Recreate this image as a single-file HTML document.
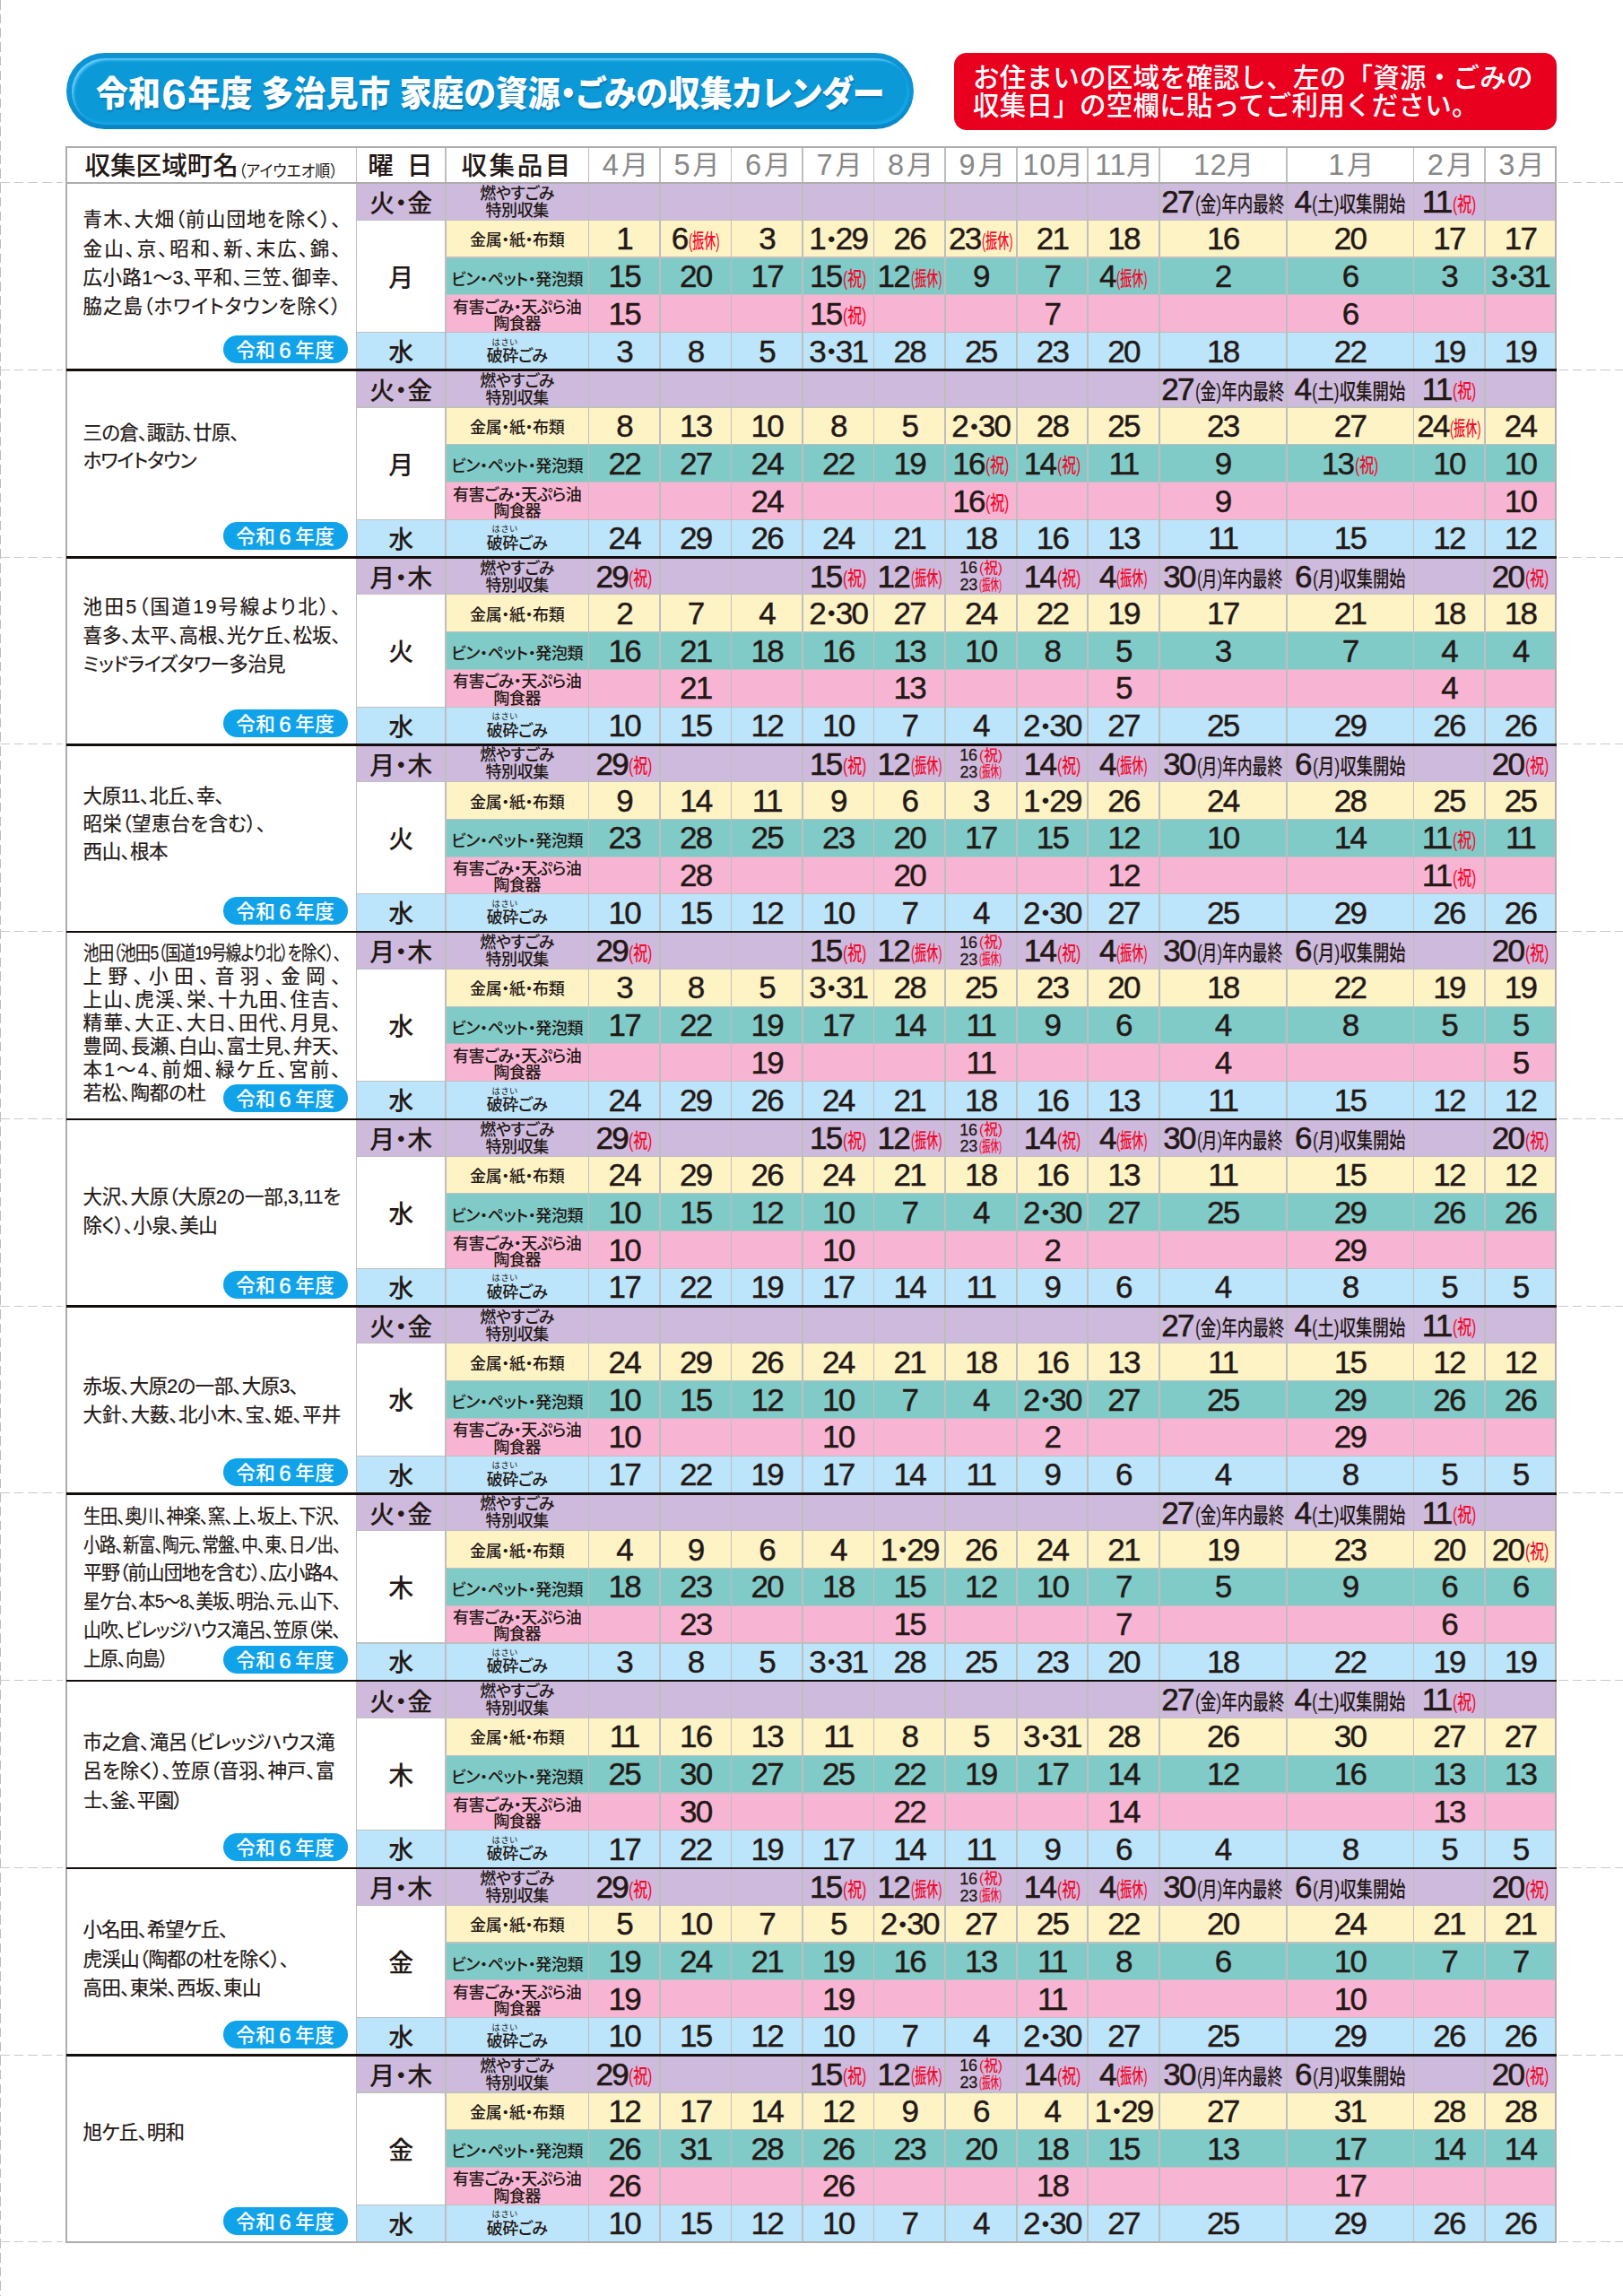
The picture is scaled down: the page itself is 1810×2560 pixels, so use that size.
<!DOCTYPE html>
<html lang="ja">
<head>
<meta charset="utf-8">
<title>令和6年度 多治見市 家庭の資源・ごみの収集カレンダー</title>
<style>
html,body{margin:0;padding:0;background:#fff}
body{width:1810px;height:2560px;position:relative;overflow:hidden;font-family:"Liberation Sans","Noto Sans CJK JP",sans-serif;color:#231815;font-feature-settings:"palt" 1;-webkit-font-smoothing:antialiased}
div,span,i,b{box-sizing:border-box}
.a{position:absolute}
.bg{position:absolute}
.vl{position:absolute;width:1.8px;background:#bebebf;top:163.6px;height:2336.37px}
.hl{position:absolute;height:1.15px;background:#c0c0c1}
.bl{position:absolute;height:2.5px;background:#150d0b;left:73.5px;width:1662.7px}
.dh{position:absolute;height:1px;background:repeating-linear-gradient(90deg,#c9c9c9 0 10.5px,transparent 10.5px 15.7px)}
.dv{position:absolute;width:1px;left:0;top:0;height:2560px;background:repeating-linear-gradient(180deg,#bdbdbd 0 10.5px,transparent 10.5px 15.7px)}
.c{position:absolute;height:41.75px;line-height:41.75px;text-align:center;white-space:nowrap;font-size:35px;letter-spacing:-1.7px;-webkit-text-stroke:.45px #231815}
.c i{font-style:normal;font-size:24px;vertical-align:3.5px;margin:0 2px 0 3px;-webkit-text-stroke:0}
.c.pp{-webkit-text-stroke:.62px #231815}
.s,.f,.w{display:inline-block;letter-spacing:0;transform-origin:0 50%;-webkit-text-stroke:0;vertical-align:1.5px;font-weight:500}
.s,.f{color:#f5082d;font-size:22px;margin-left:1.5px;vertical-align:2.5px}
.w{font-size:23.5px;margin-left:2px;vertical-align:1px}
.dd{position:absolute;height:20px;line-height:20px;font-size:18px;text-align:center;white-space:nowrap;letter-spacing:-.3px;-webkit-text-stroke:.3px #231815}
.dd .s,.dd .f{font-size:17px;vertical-align:.5px;margin-left:2px}
.s{transform:scaleX(0.7202);margin-right:-10.26px}
.f{transform:scaleX(0.5882);margin-right:-24.16px}
.wK{transform:scaleX(0.7457);margin-right:-33.86px}
.wT{transform:scaleX(0.7833);margin-right:-28.86px}
.wM{transform:scaleX(0.7149);margin-right:-37.96px}
.wG{transform:scaleX(0.7773);margin-right:-29.66px}
.dd .s{transform:scaleX(0.9108);margin-right:-2.53px}
.dd .f{transform:scaleX(0.5559);margin-right:-20.13px}
.day{position:absolute;text-align:center;white-space:nowrap;font-size:28px;font-weight:500;left:397.55px;width:99.45px}
.it{position:absolute;left:497px;width:159.4px;text-align:center;white-space:nowrap;font-size:18px;font-weight:500;line-height:19px;letter-spacing:-.4px}
.rb{position:absolute;font-size:9.3px;line-height:9px;letter-spacing:1px;font-weight:400}
.al{position:absolute;left:92.6px;height:30px;line-height:30px;font-size:21.5px;white-space:nowrap;-webkit-text-stroke:.22px #231815}
.al span{display:inline-block;transform-origin:0 50%;white-space:nowrap}
.pill{position:absolute;left:248.6px;width:139.4px;height:31px;border-radius:15.5px;background:#10a3ea;color:#fff;font-size:21.5px;font-weight:500;line-height:33.5px;text-align:center;white-space:nowrap;letter-spacing:.5px}
.i3{line-height:18.3px}
.hd{position:absolute;top:163.6px;height:39.9px;line-height:39.9px;white-space:nowrap;text-align:center}
.hm{font-size:30px;color:#888;letter-spacing:3px;padding-top:0;padding-left:5.5px}
.hm b{font-weight:400;font-size:32.5px;vertical-align:-.5px}
.hb{font-size:28.6px;font-weight:500;padding-top:2.2px}

.ttl{left:74px;top:59.2px;width:945px;height:85px;border-radius:42.5px;background:linear-gradient(180deg,#0e92d3 0%,#0c95d5 55%,#0a86c6 100%);color:#fff;font-weight:900;font-size:39px;line-height:85px;white-space:nowrap}
.ttl::before{content:"";position:absolute;left:5.5px;top:5.5px;right:5.5px;bottom:5.5px;border-radius:37px;background:#0c99d8;box-shadow:inset 3px 3px 3px -1px rgba(120,215,255,.85),inset -2px -3px 3px 0 rgba(24,168,232,.9)}
.ttl span{display:inline-block;transform-origin:0 50%;transform:scaleX(0.9222);margin-left:32.5px;z-index:1;text-shadow:1px 1.5px 1.5px rgba(0,60,110,.35);position:relative;top:3.1px}
.ttl b{display:inline-block;font-weight:700;font-size:49px;line-height:20px;vertical-align:-3.5px;margin:0 3px;transform:scaleX(1.1)}
.note{left:1064px;top:59px;width:672px;height:85.5px;border-radius:14px;background:#e8001e;color:#fff;font-size:29.5px;font-weight:500;line-height:31px;white-space:nowrap;padding:12px 0 0 21px;letter-spacing:.25px;font-feature-settings:"palt" 0}
.h1{letter-spacing:0}
.h2{font-size:18px;font-weight:400;display:inline-block;transform-origin:0 50%;transform:scaleX(.94);vertical-align:-2.5px;margin-left:.5px}
.hm2{letter-spacing:.5px;padding-left:2px}
.p6{margin:0 4px;font-size:24px;vertical-align:-1px;-webkit-text-stroke:.4px #fff}
</style>
</head>
<body>
<div class="a ttl"><span>令和<b>6</b>年度 多治見市 家庭の資源・ごみの収集カレンダー</span></div>
<div class="a note"><div>お住まいの区域を確認し、左の「資源・ごみの</div><div>収集日」の空欄に貼ってご利用ください。</div></div>
<div class="dv"></div>
<div class="dh" style="left:0;width:70px;top:203px"></div>
<div class="dh" style="left:1738px;width:72px;top:203px"></div>
<div class="dh" style="left:0;width:70px;top:411.77px"></div>
<div class="dh" style="left:1738px;width:72px;top:411.77px"></div>
<div class="dh" style="left:0;width:70px;top:620.54px"></div>
<div class="dh" style="left:1738px;width:72px;top:620.54px"></div>
<div class="dh" style="left:0;width:70px;top:829.31px"></div>
<div class="dh" style="left:1738px;width:72px;top:829.31px"></div>
<div class="dh" style="left:0;width:70px;top:1038.08px"></div>
<div class="dh" style="left:1738px;width:72px;top:1038.08px"></div>
<div class="dh" style="left:0;width:70px;top:1246.85px"></div>
<div class="dh" style="left:1738px;width:72px;top:1246.85px"></div>
<div class="dh" style="left:0;width:70px;top:1455.62px"></div>
<div class="dh" style="left:1738px;width:72px;top:1455.62px"></div>
<div class="dh" style="left:0;width:70px;top:1664.39px"></div>
<div class="dh" style="left:1738px;width:72px;top:1664.39px"></div>
<div class="dh" style="left:0;width:70px;top:1873.16px"></div>
<div class="dh" style="left:1738px;width:72px;top:1873.16px"></div>
<div class="dh" style="left:0;width:70px;top:2081.93px"></div>
<div class="dh" style="left:1738px;width:72px;top:2081.93px"></div>
<div class="dh" style="left:0;width:70px;top:2290.7px"></div>
<div class="dh" style="left:1738px;width:72px;top:2290.7px"></div>
<div class="dh" style="left:0;width:70px;top:2499.47px"></div>
<div class="dh" style="left:1738px;width:72px;top:2499.47px"></div>
<div class="bg" style="left:397.55px;top:203.5px;width:1337.75px;height:42.05px;background:#cdbadc"></div>
<div class="bg" style="left:497px;top:245.25px;width:1238.3px;height:42.05px;background:#fdf3c5"></div>
<div class="bg" style="left:497px;top:287.01px;width:1238.3px;height:42.05px;background:#80cbc8"></div>
<div class="bg" style="left:497px;top:328.76px;width:1238.3px;height:42.05px;background:#f8b5d3"></div>
<div class="bg" style="left:397.55px;top:370.52px;width:1337.75px;height:42.05px;background:#bce4fa"></div>
<div class="bg" style="left:397.55px;top:412.27px;width:1337.75px;height:42.05px;background:#cdbadc"></div>
<div class="bg" style="left:497px;top:454.02px;width:1238.3px;height:42.05px;background:#fdf3c5"></div>
<div class="bg" style="left:497px;top:495.78px;width:1238.3px;height:42.05px;background:#80cbc8"></div>
<div class="bg" style="left:497px;top:537.53px;width:1238.3px;height:42.05px;background:#f8b5d3"></div>
<div class="bg" style="left:397.55px;top:579.29px;width:1337.75px;height:42.05px;background:#bce4fa"></div>
<div class="bg" style="left:397.55px;top:621.04px;width:1337.75px;height:42.05px;background:#cdbadc"></div>
<div class="bg" style="left:497px;top:662.79px;width:1238.3px;height:42.05px;background:#fdf3c5"></div>
<div class="bg" style="left:497px;top:704.55px;width:1238.3px;height:42.05px;background:#80cbc8"></div>
<div class="bg" style="left:497px;top:746.3px;width:1238.3px;height:42.05px;background:#f8b5d3"></div>
<div class="bg" style="left:397.55px;top:788.06px;width:1337.75px;height:42.05px;background:#bce4fa"></div>
<div class="bg" style="left:397.55px;top:829.81px;width:1337.75px;height:42.05px;background:#cdbadc"></div>
<div class="bg" style="left:497px;top:871.56px;width:1238.3px;height:42.05px;background:#fdf3c5"></div>
<div class="bg" style="left:497px;top:913.32px;width:1238.3px;height:42.05px;background:#80cbc8"></div>
<div class="bg" style="left:497px;top:955.07px;width:1238.3px;height:42.05px;background:#f8b5d3"></div>
<div class="bg" style="left:397.55px;top:996.83px;width:1337.75px;height:42.05px;background:#bce4fa"></div>
<div class="bg" style="left:397.55px;top:1038.58px;width:1337.75px;height:42.05px;background:#cdbadc"></div>
<div class="bg" style="left:497px;top:1080.33px;width:1238.3px;height:42.05px;background:#fdf3c5"></div>
<div class="bg" style="left:497px;top:1122.09px;width:1238.3px;height:42.05px;background:#80cbc8"></div>
<div class="bg" style="left:497px;top:1163.84px;width:1238.3px;height:42.05px;background:#f8b5d3"></div>
<div class="bg" style="left:397.55px;top:1205.6px;width:1337.75px;height:42.05px;background:#bce4fa"></div>
<div class="bg" style="left:397.55px;top:1247.35px;width:1337.75px;height:42.05px;background:#cdbadc"></div>
<div class="bg" style="left:497px;top:1289.1px;width:1238.3px;height:42.05px;background:#fdf3c5"></div>
<div class="bg" style="left:497px;top:1330.86px;width:1238.3px;height:42.05px;background:#80cbc8"></div>
<div class="bg" style="left:497px;top:1372.61px;width:1238.3px;height:42.05px;background:#f8b5d3"></div>
<div class="bg" style="left:397.55px;top:1414.37px;width:1337.75px;height:42.05px;background:#bce4fa"></div>
<div class="bg" style="left:397.55px;top:1456.12px;width:1337.75px;height:42.05px;background:#cdbadc"></div>
<div class="bg" style="left:497px;top:1497.87px;width:1238.3px;height:42.05px;background:#fdf3c5"></div>
<div class="bg" style="left:497px;top:1539.63px;width:1238.3px;height:42.05px;background:#80cbc8"></div>
<div class="bg" style="left:497px;top:1581.38px;width:1238.3px;height:42.05px;background:#f8b5d3"></div>
<div class="bg" style="left:397.55px;top:1623.14px;width:1337.75px;height:42.05px;background:#bce4fa"></div>
<div class="bg" style="left:397.55px;top:1664.89px;width:1337.75px;height:42.05px;background:#cdbadc"></div>
<div class="bg" style="left:497px;top:1706.64px;width:1238.3px;height:42.05px;background:#fdf3c5"></div>
<div class="bg" style="left:497px;top:1748.4px;width:1238.3px;height:42.05px;background:#80cbc8"></div>
<div class="bg" style="left:497px;top:1790.15px;width:1238.3px;height:42.05px;background:#f8b5d3"></div>
<div class="bg" style="left:397.55px;top:1831.91px;width:1337.75px;height:42.05px;background:#bce4fa"></div>
<div class="bg" style="left:397.55px;top:1873.66px;width:1337.75px;height:42.05px;background:#cdbadc"></div>
<div class="bg" style="left:497px;top:1915.41px;width:1238.3px;height:42.05px;background:#fdf3c5"></div>
<div class="bg" style="left:497px;top:1957.17px;width:1238.3px;height:42.05px;background:#80cbc8"></div>
<div class="bg" style="left:497px;top:1998.92px;width:1238.3px;height:42.05px;background:#f8b5d3"></div>
<div class="bg" style="left:397.55px;top:2040.68px;width:1337.75px;height:42.05px;background:#bce4fa"></div>
<div class="bg" style="left:397.55px;top:2082.43px;width:1337.75px;height:42.05px;background:#cdbadc"></div>
<div class="bg" style="left:497px;top:2124.18px;width:1238.3px;height:42.05px;background:#fdf3c5"></div>
<div class="bg" style="left:497px;top:2165.94px;width:1238.3px;height:42.05px;background:#80cbc8"></div>
<div class="bg" style="left:497px;top:2207.69px;width:1238.3px;height:42.05px;background:#f8b5d3"></div>
<div class="bg" style="left:397.55px;top:2249.45px;width:1337.75px;height:42.05px;background:#bce4fa"></div>
<div class="bg" style="left:397.55px;top:2291.2px;width:1337.75px;height:42.05px;background:#cdbadc"></div>
<div class="bg" style="left:497px;top:2332.95px;width:1238.3px;height:42.05px;background:#fdf3c5"></div>
<div class="bg" style="left:497px;top:2374.71px;width:1238.3px;height:42.05px;background:#80cbc8"></div>
<div class="bg" style="left:497px;top:2416.46px;width:1238.3px;height:42.05px;background:#f8b5d3"></div>
<div class="bg" style="left:397.55px;top:2458.22px;width:1337.75px;height:42.05px;background:#bce4fa"></div>
<div class="hl" style="left:397.55px;top:244.7px;width:1337.75px"></div>
<div class="hl" style="left:497px;top:286.46px;width:1238.3px"></div>
<div class="hl" style="left:497px;top:328.21px;width:1238.3px"></div>
<div class="hl" style="left:397.55px;top:369.97px;width:1337.75px"></div>
<div class="hl" style="left:397.55px;top:453.47px;width:1337.75px"></div>
<div class="hl" style="left:497px;top:495.23px;width:1238.3px"></div>
<div class="hl" style="left:497px;top:536.98px;width:1238.3px"></div>
<div class="hl" style="left:397.55px;top:578.74px;width:1337.75px"></div>
<div class="hl" style="left:397.55px;top:662.24px;width:1337.75px"></div>
<div class="hl" style="left:497px;top:704px;width:1238.3px"></div>
<div class="hl" style="left:497px;top:745.75px;width:1238.3px"></div>
<div class="hl" style="left:397.55px;top:787.51px;width:1337.75px"></div>
<div class="hl" style="left:397.55px;top:871.01px;width:1337.75px"></div>
<div class="hl" style="left:497px;top:912.77px;width:1238.3px"></div>
<div class="hl" style="left:497px;top:954.52px;width:1238.3px"></div>
<div class="hl" style="left:397.55px;top:996.28px;width:1337.75px"></div>
<div class="hl" style="left:397.55px;top:1079.78px;width:1337.75px"></div>
<div class="hl" style="left:497px;top:1121.54px;width:1238.3px"></div>
<div class="hl" style="left:497px;top:1163.29px;width:1238.3px"></div>
<div class="hl" style="left:397.55px;top:1205.05px;width:1337.75px"></div>
<div class="hl" style="left:397.55px;top:1288.55px;width:1337.75px"></div>
<div class="hl" style="left:497px;top:1330.31px;width:1238.3px"></div>
<div class="hl" style="left:497px;top:1372.06px;width:1238.3px"></div>
<div class="hl" style="left:397.55px;top:1413.82px;width:1337.75px"></div>
<div class="hl" style="left:397.55px;top:1497.32px;width:1337.75px"></div>
<div class="hl" style="left:497px;top:1539.08px;width:1238.3px"></div>
<div class="hl" style="left:497px;top:1580.83px;width:1238.3px"></div>
<div class="hl" style="left:397.55px;top:1622.59px;width:1337.75px"></div>
<div class="hl" style="left:397.55px;top:1706.09px;width:1337.75px"></div>
<div class="hl" style="left:497px;top:1747.85px;width:1238.3px"></div>
<div class="hl" style="left:497px;top:1789.6px;width:1238.3px"></div>
<div class="hl" style="left:397.55px;top:1831.36px;width:1337.75px"></div>
<div class="hl" style="left:397.55px;top:1914.86px;width:1337.75px"></div>
<div class="hl" style="left:497px;top:1956.62px;width:1238.3px"></div>
<div class="hl" style="left:497px;top:1998.37px;width:1238.3px"></div>
<div class="hl" style="left:397.55px;top:2040.13px;width:1337.75px"></div>
<div class="hl" style="left:397.55px;top:2123.63px;width:1337.75px"></div>
<div class="hl" style="left:497px;top:2165.39px;width:1238.3px"></div>
<div class="hl" style="left:497px;top:2207.14px;width:1238.3px"></div>
<div class="hl" style="left:397.55px;top:2248.9px;width:1337.75px"></div>
<div class="hl" style="left:397.55px;top:2332.4px;width:1337.75px"></div>
<div class="hl" style="left:497px;top:2374.16px;width:1238.3px"></div>
<div class="hl" style="left:497px;top:2415.91px;width:1238.3px"></div>
<div class="hl" style="left:397.55px;top:2457.67px;width:1337.75px"></div>
<div class="vl" style="left:396.65px"></div>
<div class="vl" style="left:496.1px"></div>
<div class="vl" style="left:655.5px"></div>
<div class="vl" style="left:735.04px"></div>
<div class="vl" style="left:814.58px"></div>
<div class="vl" style="left:894.12px"></div>
<div class="vl" style="left:973.66px"></div>
<div class="vl" style="left:1053.2px"></div>
<div class="vl" style="left:1132.74px"></div>
<div class="vl" style="left:1212.28px"></div>
<div class="vl" style="left:1291.82px"></div>
<div class="vl" style="left:1433.8px"></div>
<div class="vl" style="left:1575.5px"></div>
<div class="vl" style="left:1654.9px"></div>
<div class="a" style="left:73.4px;top:162.6px;width:1662.9px;height:2338.37px;border:2.3px solid #adadae;border-top-width:2px"></div>
<div class="hl" style="left:74.4px;top:202.5px;width:1660.9px;height:2px;background:#adadae"></div>
<div class="bl" style="top:411.47px"></div>
<div class="bl" style="top:620.24px"></div>
<div class="bl" style="top:829.01px"></div>
<div class="bl" style="top:1037.78px"></div>
<div class="bl" style="top:1246.55px"></div>
<div class="bl" style="top:1455.32px"></div>
<div class="bl" style="top:1664.09px"></div>
<div class="bl" style="top:1872.86px"></div>
<div class="bl" style="top:2081.63px"></div>
<div class="bl" style="top:2290.4px"></div>
<div class="hd hb" style="left:74.4px;width:323.15px;text-align:left;padding-left:20px"><span class="h1">収集区域町名</span><span class="h2">（アイウエオ順）</span></div>
<div class="hd hb" style="left:397.55px;width:99.45px;letter-spacing:2px">曜<span style="display:inline-block;width:13px"></span>日</div>
<div class="hd hb" style="left:497px;width:159.4px;letter-spacing:2.5px">収集品目</div>
<div class="hd hm" style="left:656.4px;width:79.54px"><b>4</b>月</div>
<div class="hd hm" style="left:735.94px;width:79.54px"><b>5</b>月</div>
<div class="hd hm" style="left:815.48px;width:79.54px"><b>6</b>月</div>
<div class="hd hm" style="left:895.02px;width:79.54px"><b>7</b>月</div>
<div class="hd hm" style="left:974.56px;width:79.54px"><b>8</b>月</div>
<div class="hd hm" style="left:1054.1px;width:79.54px"><b>9</b>月</div>
<div class="hd hm hm2" style="left:1133.64px;width:79.54px"><b>10</b>月</div>
<div class="hd hm hm2" style="left:1213.18px;width:79.54px"><b>11</b>月</div>
<div class="hd hm hm2" style="left:1292.72px;width:141.98px"><b>12</b>月</div>
<div class="hd hm" style="left:1434.7px;width:141.7px"><b>1</b>月</div>
<div class="hd hm" style="left:1576.4px;width:79.4px"><b>2</b>月</div>
<div class="hd hm" style="left:1655.8px;width:79.5px"><b>3</b>月</div>
<div class="al" style="top:230.2px"><span style="letter-spacing:1.17px">青木、大畑（前山団地を除く）、</span></div>
<div class="al" style="top:262.6px"><span style="letter-spacing:2.11px">金山、京、昭和、新、末広、錦、</span></div>
<div class="al" style="top:295px"><span style="letter-spacing:0.37px">広小路1〜3、平和、三笠、御幸、</span></div>
<div class="al" style="top:327.4px"><span style="letter-spacing:0.91px">脇之島（ホワイトタウンを除く）</span></div>
<div class="pill" style="top:373.6px">令和<span class="p6">6</span>年度</div>
<div class="day" style="top:207.4px;height:41.75px;line-height:41.75px">火・金</div>
<div class="day" style="top:247.85px;height:125.26px;line-height:125.26px">月</div>
<div class="day" style="top:373.02px;height:41.75px;line-height:41.75px">水</div>
<div class="it i0" style="top:207.08px">燃やすごみ<br>特別収集</div>
<div class="it i1" style="top:259.23px">金属・紙・布類</div>
<div class="it i2" style="top:302.69px">ビン・ペット・発泡類</div>
<div class="it i3" style="top:333.74px">有害ごみ・天ぷら油<br>陶食器</div>
<div class="it i4" style="top:388.09px">破砕ごみ</div>
<div class="rb" style="left:548.5px;top:377.62px">はさい</div>
<div class="c pp" style="left:1292.72px;width:141.98px;top:204.2px">27<span class="w wK">(金)年内最終</span></div>
<div class="c pp" style="left:1434.7px;width:141.7px;top:204.2px">4<span class="w wT">(土)収集開始</span></div>
<div class="c pp" style="left:1576.4px;width:79.4px;top:204.2px">11<span class="s">(祝)</span></div>
<div class="c" style="left:656.4px;width:79.54px;top:245.25px">1</div>
<div class="c" style="left:735.94px;width:79.54px;top:245.25px">6<span class="f">(振休)</span></div>
<div class="c" style="left:815.48px;width:79.54px;top:245.25px">3</div>
<div class="c" style="left:895.02px;width:79.54px;top:245.25px">1<i>•</i>29</div>
<div class="c" style="left:974.56px;width:79.54px;top:245.25px">26</div>
<div class="c" style="left:1054.1px;width:79.54px;top:245.25px">23<span class="f">(振休)</span></div>
<div class="c" style="left:1133.64px;width:79.54px;top:245.25px">21</div>
<div class="c" style="left:1213.18px;width:79.54px;top:245.25px">18</div>
<div class="c" style="left:1292.72px;width:141.98px;top:245.25px">16</div>
<div class="c" style="left:1434.7px;width:141.7px;top:245.25px">20</div>
<div class="c" style="left:1576.4px;width:79.4px;top:245.25px">17</div>
<div class="c" style="left:1655.8px;width:79.5px;top:245.25px">17</div>
<div class="c" style="left:656.4px;width:79.54px;top:287.01px">15</div>
<div class="c" style="left:735.94px;width:79.54px;top:287.01px">20</div>
<div class="c" style="left:815.48px;width:79.54px;top:287.01px">17</div>
<div class="c" style="left:895.02px;width:79.54px;top:287.01px">15<span class="s">(祝)</span></div>
<div class="c" style="left:974.56px;width:79.54px;top:287.01px">12<span class="f">(振休)</span></div>
<div class="c" style="left:1054.1px;width:79.54px;top:287.01px">9</div>
<div class="c" style="left:1133.64px;width:79.54px;top:287.01px">7</div>
<div class="c" style="left:1213.18px;width:79.54px;top:287.01px">4<span class="f">(振休)</span></div>
<div class="c" style="left:1292.72px;width:141.98px;top:287.01px">2</div>
<div class="c" style="left:1434.7px;width:141.7px;top:287.01px">6</div>
<div class="c" style="left:1576.4px;width:79.4px;top:287.01px">3</div>
<div class="c" style="left:1655.8px;width:79.5px;top:287.01px">3<i>•</i>31</div>
<div class="c" style="left:656.4px;width:79.54px;top:328.76px">15</div>
<div class="c" style="left:895.02px;width:79.54px;top:328.76px">15<span class="s">(祝)</span></div>
<div class="c" style="left:1133.64px;width:79.54px;top:328.76px">7</div>
<div class="c" style="left:1434.7px;width:141.7px;top:328.76px">6</div>
<div class="c" style="left:656.4px;width:79.54px;top:370.52px">3</div>
<div class="c" style="left:735.94px;width:79.54px;top:370.52px">8</div>
<div class="c" style="left:815.48px;width:79.54px;top:370.52px">5</div>
<div class="c" style="left:895.02px;width:79.54px;top:370.52px">3<i>•</i>31</div>
<div class="c" style="left:974.56px;width:79.54px;top:370.52px">28</div>
<div class="c" style="left:1054.1px;width:79.54px;top:370.52px">25</div>
<div class="c" style="left:1133.64px;width:79.54px;top:370.52px">23</div>
<div class="c" style="left:1213.18px;width:79.54px;top:370.52px">20</div>
<div class="c" style="left:1292.72px;width:141.98px;top:370.52px">18</div>
<div class="c" style="left:1434.7px;width:141.7px;top:370.52px">22</div>
<div class="c" style="left:1576.4px;width:79.4px;top:370.52px">19</div>
<div class="c" style="left:1655.8px;width:79.5px;top:370.52px">19</div>
<div class="al" style="top:468.07px"><span style="letter-spacing:-0.82px">三の倉、諏訪、廿原、</span></div>
<div class="al" style="top:499.07px"><span style="letter-spacing:-0.95px">ホワイトタウン</span></div>
<div class="pill" style="top:582.37px">令和<span class="p6">6</span>年度</div>
<div class="day" style="top:416.17px;height:41.75px;line-height:41.75px">火・金</div>
<div class="day" style="top:456.62px;height:125.26px;line-height:125.26px">月</div>
<div class="day" style="top:581.79px;height:41.75px;line-height:41.75px">水</div>
<div class="it i0" style="top:415.85px">燃やすごみ<br>特別収集</div>
<div class="it i1" style="top:468px">金属・紙・布類</div>
<div class="it i2" style="top:511.45px">ビン・ペット・発泡類</div>
<div class="it i3" style="top:542.51px">有害ごみ・天ぷら油<br>陶食器</div>
<div class="it i4" style="top:596.86px">破砕ごみ</div>
<div class="rb" style="left:548.5px;top:586.39px">はさい</div>
<div class="c pp" style="left:1292.72px;width:141.98px;top:412.97px">27<span class="w wK">(金)年内最終</span></div>
<div class="c pp" style="left:1434.7px;width:141.7px;top:412.97px">4<span class="w wT">(土)収集開始</span></div>
<div class="c pp" style="left:1576.4px;width:79.4px;top:412.97px">11<span class="s">(祝)</span></div>
<div class="c" style="left:656.4px;width:79.54px;top:454.02px">8</div>
<div class="c" style="left:735.94px;width:79.54px;top:454.02px">13</div>
<div class="c" style="left:815.48px;width:79.54px;top:454.02px">10</div>
<div class="c" style="left:895.02px;width:79.54px;top:454.02px">8</div>
<div class="c" style="left:974.56px;width:79.54px;top:454.02px">5</div>
<div class="c" style="left:1054.1px;width:79.54px;top:454.02px">2<i>•</i>30</div>
<div class="c" style="left:1133.64px;width:79.54px;top:454.02px">28</div>
<div class="c" style="left:1213.18px;width:79.54px;top:454.02px">25</div>
<div class="c" style="left:1292.72px;width:141.98px;top:454.02px">23</div>
<div class="c" style="left:1434.7px;width:141.7px;top:454.02px">27</div>
<div class="c" style="left:1576.4px;width:79.4px;top:454.02px">24<span class="f">(振休)</span></div>
<div class="c" style="left:1655.8px;width:79.5px;top:454.02px">24</div>
<div class="c" style="left:656.4px;width:79.54px;top:495.78px">22</div>
<div class="c" style="left:735.94px;width:79.54px;top:495.78px">27</div>
<div class="c" style="left:815.48px;width:79.54px;top:495.78px">24</div>
<div class="c" style="left:895.02px;width:79.54px;top:495.78px">22</div>
<div class="c" style="left:974.56px;width:79.54px;top:495.78px">19</div>
<div class="c" style="left:1054.1px;width:79.54px;top:495.78px">16<span class="s">(祝)</span></div>
<div class="c" style="left:1133.64px;width:79.54px;top:495.78px">14<span class="s">(祝)</span></div>
<div class="c" style="left:1213.18px;width:79.54px;top:495.78px">11</div>
<div class="c" style="left:1292.72px;width:141.98px;top:495.78px">9</div>
<div class="c" style="left:1434.7px;width:141.7px;top:495.78px">13<span class="s">(祝)</span></div>
<div class="c" style="left:1576.4px;width:79.4px;top:495.78px">10</div>
<div class="c" style="left:1655.8px;width:79.5px;top:495.78px">10</div>
<div class="c" style="left:815.48px;width:79.54px;top:537.53px">24</div>
<div class="c" style="left:1054.1px;width:79.54px;top:537.53px">16<span class="s">(祝)</span></div>
<div class="c" style="left:1292.72px;width:141.98px;top:537.53px">9</div>
<div class="c" style="left:1655.8px;width:79.5px;top:537.53px">10</div>
<div class="c" style="left:656.4px;width:79.54px;top:579.29px">24</div>
<div class="c" style="left:735.94px;width:79.54px;top:579.29px">29</div>
<div class="c" style="left:815.48px;width:79.54px;top:579.29px">26</div>
<div class="c" style="left:895.02px;width:79.54px;top:579.29px">24</div>
<div class="c" style="left:974.56px;width:79.54px;top:579.29px">21</div>
<div class="c" style="left:1054.1px;width:79.54px;top:579.29px">18</div>
<div class="c" style="left:1133.64px;width:79.54px;top:579.29px">16</div>
<div class="c" style="left:1213.18px;width:79.54px;top:579.29px">13</div>
<div class="c" style="left:1292.72px;width:141.98px;top:579.29px">11</div>
<div class="c" style="left:1434.7px;width:141.7px;top:579.29px">15</div>
<div class="c" style="left:1576.4px;width:79.4px;top:579.29px">12</div>
<div class="c" style="left:1655.8px;width:79.5px;top:579.29px">12</div>
<div class="al" style="top:662.04px"><span style="letter-spacing:2.33px">池田5（国道19号線より北）、</span></div>
<div class="al" style="top:693.84px"><span style="letter-spacing:-0.09px">喜多、太平、高根、光ケ丘、松坂、</span></div>
<div class="al" style="top:725.64px"><span style="letter-spacing:-0.55px">ミッドライズタワー多治見</span></div>
<div class="pill" style="top:791.14px">令和<span class="p6">6</span>年度</div>
<div class="day" style="top:624.94px;height:41.75px;line-height:41.75px">月・木</div>
<div class="day" style="top:665.39px;height:125.26px;line-height:125.26px">火</div>
<div class="day" style="top:790.56px;height:41.75px;line-height:41.75px">水</div>
<div class="it i0" style="top:624.62px">燃やすごみ<br>特別収集</div>
<div class="it i1" style="top:676.77px">金属・紙・布類</div>
<div class="it i2" style="top:720.22px">ビン・ペット・発泡類</div>
<div class="it i3" style="top:751.28px">有害ごみ・天ぷら油<br>陶食器</div>
<div class="it i4" style="top:805.63px">破砕ごみ</div>
<div class="rb" style="left:548.5px;top:795.16px">はさい</div>
<div class="c pp" style="left:656.4px;width:79.54px;top:621.74px">29<span class="s">(祝)</span></div>
<div class="c pp" style="left:895.02px;width:79.54px;top:621.74px">15<span class="s">(祝)</span></div>
<div class="c pp" style="left:974.56px;width:79.54px;top:621.74px">12<span class="f">(振休)</span></div>
<div class="dd" style="left:1054.1px;width:79.54px;top:623.32px">16<span class="s">(祝)</span></div>
<div class="dd" style="left:1054.1px;width:79.54px;top:642.12px">23<span class="f">(振休)</span></div>
<div class="c pp" style="left:1133.64px;width:79.54px;top:621.74px">14<span class="s">(祝)</span></div>
<div class="c pp" style="left:1213.18px;width:79.54px;top:621.74px">4<span class="f">(振休)</span></div>
<div class="c pp" style="left:1292.72px;width:141.98px;top:621.74px">30<span class="w wM">(月)年内最終</span></div>
<div class="c pp" style="left:1434.7px;width:141.7px;top:621.74px">6<span class="w wG">(月)収集開始</span></div>
<div class="c pp" style="left:1655.8px;width:79.5px;top:621.74px">20<span class="s">(祝)</span></div>
<div class="c" style="left:656.4px;width:79.54px;top:662.79px">2</div>
<div class="c" style="left:735.94px;width:79.54px;top:662.79px">7</div>
<div class="c" style="left:815.48px;width:79.54px;top:662.79px">4</div>
<div class="c" style="left:895.02px;width:79.54px;top:662.79px">2<i>•</i>30</div>
<div class="c" style="left:974.56px;width:79.54px;top:662.79px">27</div>
<div class="c" style="left:1054.1px;width:79.54px;top:662.79px">24</div>
<div class="c" style="left:1133.64px;width:79.54px;top:662.79px">22</div>
<div class="c" style="left:1213.18px;width:79.54px;top:662.79px">19</div>
<div class="c" style="left:1292.72px;width:141.98px;top:662.79px">17</div>
<div class="c" style="left:1434.7px;width:141.7px;top:662.79px">21</div>
<div class="c" style="left:1576.4px;width:79.4px;top:662.79px">18</div>
<div class="c" style="left:1655.8px;width:79.5px;top:662.79px">18</div>
<div class="c" style="left:656.4px;width:79.54px;top:704.55px">16</div>
<div class="c" style="left:735.94px;width:79.54px;top:704.55px">21</div>
<div class="c" style="left:815.48px;width:79.54px;top:704.55px">18</div>
<div class="c" style="left:895.02px;width:79.54px;top:704.55px">16</div>
<div class="c" style="left:974.56px;width:79.54px;top:704.55px">13</div>
<div class="c" style="left:1054.1px;width:79.54px;top:704.55px">10</div>
<div class="c" style="left:1133.64px;width:79.54px;top:704.55px">8</div>
<div class="c" style="left:1213.18px;width:79.54px;top:704.55px">5</div>
<div class="c" style="left:1292.72px;width:141.98px;top:704.55px">3</div>
<div class="c" style="left:1434.7px;width:141.7px;top:704.55px">7</div>
<div class="c" style="left:1576.4px;width:79.4px;top:704.55px">4</div>
<div class="c" style="left:1655.8px;width:79.5px;top:704.55px">4</div>
<div class="c" style="left:735.94px;width:79.54px;top:746.3px">21</div>
<div class="c" style="left:974.56px;width:79.54px;top:746.3px">13</div>
<div class="c" style="left:1213.18px;width:79.54px;top:746.3px">5</div>
<div class="c" style="left:1576.4px;width:79.4px;top:746.3px">4</div>
<div class="c" style="left:656.4px;width:79.54px;top:788.06px">10</div>
<div class="c" style="left:735.94px;width:79.54px;top:788.06px">15</div>
<div class="c" style="left:815.48px;width:79.54px;top:788.06px">12</div>
<div class="c" style="left:895.02px;width:79.54px;top:788.06px">10</div>
<div class="c" style="left:974.56px;width:79.54px;top:788.06px">7</div>
<div class="c" style="left:1054.1px;width:79.54px;top:788.06px">4</div>
<div class="c" style="left:1133.64px;width:79.54px;top:788.06px">2<i>•</i>30</div>
<div class="c" style="left:1213.18px;width:79.54px;top:788.06px">27</div>
<div class="c" style="left:1292.72px;width:141.98px;top:788.06px">25</div>
<div class="c" style="left:1434.7px;width:141.7px;top:788.06px">29</div>
<div class="c" style="left:1576.4px;width:79.4px;top:788.06px">26</div>
<div class="c" style="left:1655.8px;width:79.5px;top:788.06px">26</div>
<div class="al" style="top:872.51px"><span style="letter-spacing:-0.46px">大原11、北丘、幸、</span></div>
<div class="al" style="top:903.91px"><span style="letter-spacing:0.25px">昭栄（望恵台を含む）、</span></div>
<div class="al" style="top:935.31px"><span style="letter-spacing:-0.44px">西山、根本</span></div>
<div class="pill" style="top:999.91px">令和<span class="p6">6</span>年度</div>
<div class="day" style="top:833.71px;height:41.75px;line-height:41.75px">月・木</div>
<div class="day" style="top:874.16px;height:125.26px;line-height:125.26px">火</div>
<div class="day" style="top:999.33px;height:41.75px;line-height:41.75px">水</div>
<div class="it i0" style="top:833.39px">燃やすごみ<br>特別収集</div>
<div class="it i1" style="top:885.54px">金属・紙・布類</div>
<div class="it i2" style="top:929px">ビン・ペット・発泡類</div>
<div class="it i3" style="top:960.05px">有害ごみ・天ぷら油<br>陶食器</div>
<div class="it i4" style="top:1014.4px">破砕ごみ</div>
<div class="rb" style="left:548.5px;top:1003.93px">はさい</div>
<div class="c pp" style="left:656.4px;width:79.54px;top:830.51px">29<span class="s">(祝)</span></div>
<div class="c pp" style="left:895.02px;width:79.54px;top:830.51px">15<span class="s">(祝)</span></div>
<div class="c pp" style="left:974.56px;width:79.54px;top:830.51px">12<span class="f">(振休)</span></div>
<div class="dd" style="left:1054.1px;width:79.54px;top:832.09px">16<span class="s">(祝)</span></div>
<div class="dd" style="left:1054.1px;width:79.54px;top:850.89px">23<span class="f">(振休)</span></div>
<div class="c pp" style="left:1133.64px;width:79.54px;top:830.51px">14<span class="s">(祝)</span></div>
<div class="c pp" style="left:1213.18px;width:79.54px;top:830.51px">4<span class="f">(振休)</span></div>
<div class="c pp" style="left:1292.72px;width:141.98px;top:830.51px">30<span class="w wM">(月)年内最終</span></div>
<div class="c pp" style="left:1434.7px;width:141.7px;top:830.51px">6<span class="w wG">(月)収集開始</span></div>
<div class="c pp" style="left:1655.8px;width:79.5px;top:830.51px">20<span class="s">(祝)</span></div>
<div class="c" style="left:656.4px;width:79.54px;top:871.56px">9</div>
<div class="c" style="left:735.94px;width:79.54px;top:871.56px">14</div>
<div class="c" style="left:815.48px;width:79.54px;top:871.56px">11</div>
<div class="c" style="left:895.02px;width:79.54px;top:871.56px">9</div>
<div class="c" style="left:974.56px;width:79.54px;top:871.56px">6</div>
<div class="c" style="left:1054.1px;width:79.54px;top:871.56px">3</div>
<div class="c" style="left:1133.64px;width:79.54px;top:871.56px">1<i>•</i>29</div>
<div class="c" style="left:1213.18px;width:79.54px;top:871.56px">26</div>
<div class="c" style="left:1292.72px;width:141.98px;top:871.56px">24</div>
<div class="c" style="left:1434.7px;width:141.7px;top:871.56px">28</div>
<div class="c" style="left:1576.4px;width:79.4px;top:871.56px">25</div>
<div class="c" style="left:1655.8px;width:79.5px;top:871.56px">25</div>
<div class="c" style="left:656.4px;width:79.54px;top:913.32px">23</div>
<div class="c" style="left:735.94px;width:79.54px;top:913.32px">28</div>
<div class="c" style="left:815.48px;width:79.54px;top:913.32px">25</div>
<div class="c" style="left:895.02px;width:79.54px;top:913.32px">23</div>
<div class="c" style="left:974.56px;width:79.54px;top:913.32px">20</div>
<div class="c" style="left:1054.1px;width:79.54px;top:913.32px">17</div>
<div class="c" style="left:1133.64px;width:79.54px;top:913.32px">15</div>
<div class="c" style="left:1213.18px;width:79.54px;top:913.32px">12</div>
<div class="c" style="left:1292.72px;width:141.98px;top:913.32px">10</div>
<div class="c" style="left:1434.7px;width:141.7px;top:913.32px">14</div>
<div class="c" style="left:1576.4px;width:79.4px;top:913.32px">11<span class="s">(祝)</span></div>
<div class="c" style="left:1655.8px;width:79.5px;top:913.32px">11</div>
<div class="c" style="left:735.94px;width:79.54px;top:955.07px">28</div>
<div class="c" style="left:974.56px;width:79.54px;top:955.07px">20</div>
<div class="c" style="left:1213.18px;width:79.54px;top:955.07px">12</div>
<div class="c" style="left:1576.4px;width:79.4px;top:955.07px">11<span class="s">(祝)</span></div>
<div class="c" style="left:656.4px;width:79.54px;top:996.83px">10</div>
<div class="c" style="left:735.94px;width:79.54px;top:996.83px">15</div>
<div class="c" style="left:815.48px;width:79.54px;top:996.83px">12</div>
<div class="c" style="left:895.02px;width:79.54px;top:996.83px">10</div>
<div class="c" style="left:974.56px;width:79.54px;top:996.83px">7</div>
<div class="c" style="left:1054.1px;width:79.54px;top:996.83px">4</div>
<div class="c" style="left:1133.64px;width:79.54px;top:996.83px">2<i>•</i>30</div>
<div class="c" style="left:1213.18px;width:79.54px;top:996.83px">27</div>
<div class="c" style="left:1292.72px;width:141.98px;top:996.83px">25</div>
<div class="c" style="left:1434.7px;width:141.7px;top:996.83px">29</div>
<div class="c" style="left:1576.4px;width:79.4px;top:996.83px">26</div>
<div class="c" style="left:1655.8px;width:79.5px;top:996.83px">26</div>
<div class="al" style="top:1048.08px"><span style="letter-spacing:-1px;transform:scaleX(0.8111)">池田（池田5（国道19号線より北）を除く）、</span></div>
<div class="al" style="top:1074.08px"><span style="letter-spacing:6.59px">上野、小田、音羽、金岡、</span></div>
<div class="al" style="top:1100.08px"><span style="letter-spacing:1.34px">上山、虎渓、栄、十九田、住吉、</span></div>
<div class="al" style="top:1126.08px"><span style="letter-spacing:1.34px">精華、大正、大日、田代、月見、</span></div>
<div class="al" style="top:1152.08px"><span style="letter-spacing:-0.18px">豊岡、長瀬、白山、富士見、弁天、</span></div>
<div class="al" style="top:1178.08px"><span style="letter-spacing:2.03px">本1〜4、前畑、緑ケ丘、宮前、</span></div>
<div class="al" style="top:1204.08px"><span style="letter-spacing:-0.25px">若松、陶都の杜</span></div>
<div class="pill" style="top:1208.68px">令和<span class="p6">6</span>年度</div>
<div class="day" style="top:1042.48px;height:41.75px;line-height:41.75px">月・木</div>
<div class="day" style="top:1082.93px;height:125.26px;line-height:125.26px">水</div>
<div class="day" style="top:1208.1px;height:41.75px;line-height:41.75px">水</div>
<div class="it i0" style="top:1042.16px">燃やすごみ<br>特別収集</div>
<div class="it i1" style="top:1094.31px">金属・紙・布類</div>
<div class="it i2" style="top:1137.76px">ビン・ペット・発泡類</div>
<div class="it i3" style="top:1168.82px">有害ごみ・天ぷら油<br>陶食器</div>
<div class="it i4" style="top:1223.17px">破砕ごみ</div>
<div class="rb" style="left:548.5px;top:1212.7px">はさい</div>
<div class="c pp" style="left:656.4px;width:79.54px;top:1039.28px">29<span class="s">(祝)</span></div>
<div class="c pp" style="left:895.02px;width:79.54px;top:1039.28px">15<span class="s">(祝)</span></div>
<div class="c pp" style="left:974.56px;width:79.54px;top:1039.28px">12<span class="f">(振休)</span></div>
<div class="dd" style="left:1054.1px;width:79.54px;top:1040.86px">16<span class="s">(祝)</span></div>
<div class="dd" style="left:1054.1px;width:79.54px;top:1059.66px">23<span class="f">(振休)</span></div>
<div class="c pp" style="left:1133.64px;width:79.54px;top:1039.28px">14<span class="s">(祝)</span></div>
<div class="c pp" style="left:1213.18px;width:79.54px;top:1039.28px">4<span class="f">(振休)</span></div>
<div class="c pp" style="left:1292.72px;width:141.98px;top:1039.28px">30<span class="w wM">(月)年内最終</span></div>
<div class="c pp" style="left:1434.7px;width:141.7px;top:1039.28px">6<span class="w wG">(月)収集開始</span></div>
<div class="c pp" style="left:1655.8px;width:79.5px;top:1039.28px">20<span class="s">(祝)</span></div>
<div class="c" style="left:656.4px;width:79.54px;top:1080.33px">3</div>
<div class="c" style="left:735.94px;width:79.54px;top:1080.33px">8</div>
<div class="c" style="left:815.48px;width:79.54px;top:1080.33px">5</div>
<div class="c" style="left:895.02px;width:79.54px;top:1080.33px">3<i>•</i>31</div>
<div class="c" style="left:974.56px;width:79.54px;top:1080.33px">28</div>
<div class="c" style="left:1054.1px;width:79.54px;top:1080.33px">25</div>
<div class="c" style="left:1133.64px;width:79.54px;top:1080.33px">23</div>
<div class="c" style="left:1213.18px;width:79.54px;top:1080.33px">20</div>
<div class="c" style="left:1292.72px;width:141.98px;top:1080.33px">18</div>
<div class="c" style="left:1434.7px;width:141.7px;top:1080.33px">22</div>
<div class="c" style="left:1576.4px;width:79.4px;top:1080.33px">19</div>
<div class="c" style="left:1655.8px;width:79.5px;top:1080.33px">19</div>
<div class="c" style="left:656.4px;width:79.54px;top:1122.09px">17</div>
<div class="c" style="left:735.94px;width:79.54px;top:1122.09px">22</div>
<div class="c" style="left:815.48px;width:79.54px;top:1122.09px">19</div>
<div class="c" style="left:895.02px;width:79.54px;top:1122.09px">17</div>
<div class="c" style="left:974.56px;width:79.54px;top:1122.09px">14</div>
<div class="c" style="left:1054.1px;width:79.54px;top:1122.09px">11</div>
<div class="c" style="left:1133.64px;width:79.54px;top:1122.09px">9</div>
<div class="c" style="left:1213.18px;width:79.54px;top:1122.09px">6</div>
<div class="c" style="left:1292.72px;width:141.98px;top:1122.09px">4</div>
<div class="c" style="left:1434.7px;width:141.7px;top:1122.09px">8</div>
<div class="c" style="left:1576.4px;width:79.4px;top:1122.09px">5</div>
<div class="c" style="left:1655.8px;width:79.5px;top:1122.09px">5</div>
<div class="c" style="left:815.48px;width:79.54px;top:1163.84px">19</div>
<div class="c" style="left:1054.1px;width:79.54px;top:1163.84px">11</div>
<div class="c" style="left:1292.72px;width:141.98px;top:1163.84px">4</div>
<div class="c" style="left:1655.8px;width:79.5px;top:1163.84px">5</div>
<div class="c" style="left:656.4px;width:79.54px;top:1205.6px">24</div>
<div class="c" style="left:735.94px;width:79.54px;top:1205.6px">29</div>
<div class="c" style="left:815.48px;width:79.54px;top:1205.6px">26</div>
<div class="c" style="left:895.02px;width:79.54px;top:1205.6px">24</div>
<div class="c" style="left:974.56px;width:79.54px;top:1205.6px">21</div>
<div class="c" style="left:1054.1px;width:79.54px;top:1205.6px">18</div>
<div class="c" style="left:1133.64px;width:79.54px;top:1205.6px">16</div>
<div class="c" style="left:1213.18px;width:79.54px;top:1205.6px">13</div>
<div class="c" style="left:1292.72px;width:141.98px;top:1205.6px">11</div>
<div class="c" style="left:1434.7px;width:141.7px;top:1205.6px">15</div>
<div class="c" style="left:1576.4px;width:79.4px;top:1205.6px">12</div>
<div class="c" style="left:1655.8px;width:79.5px;top:1205.6px">12</div>
<div class="al" style="top:1319.75px"><span style="letter-spacing:-0.28px">大沢、大原（大原2の一部,3,11を</span></div>
<div class="al" style="top:1351.85px"><span style="letter-spacing:-0.54px">除く）、小泉、美山</span></div>
<div class="pill" style="top:1417.45px">令和<span class="p6">6</span>年度</div>
<div class="day" style="top:1251.25px;height:41.75px;line-height:41.75px">月・木</div>
<div class="day" style="top:1291.7px;height:125.26px;line-height:125.26px">水</div>
<div class="day" style="top:1416.87px;height:41.75px;line-height:41.75px">水</div>
<div class="it i0" style="top:1250.93px">燃やすごみ<br>特別収集</div>
<div class="it i1" style="top:1303.08px">金属・紙・布類</div>
<div class="it i2" style="top:1346.54px">ビン・ペット・発泡類</div>
<div class="it i3" style="top:1377.59px">有害ごみ・天ぷら油<br>陶食器</div>
<div class="it i4" style="top:1431.94px">破砕ごみ</div>
<div class="rb" style="left:548.5px;top:1421.47px">はさい</div>
<div class="c pp" style="left:656.4px;width:79.54px;top:1248.05px">29<span class="s">(祝)</span></div>
<div class="c pp" style="left:895.02px;width:79.54px;top:1248.05px">15<span class="s">(祝)</span></div>
<div class="c pp" style="left:974.56px;width:79.54px;top:1248.05px">12<span class="f">(振休)</span></div>
<div class="dd" style="left:1054.1px;width:79.54px;top:1249.63px">16<span class="s">(祝)</span></div>
<div class="dd" style="left:1054.1px;width:79.54px;top:1268.43px">23<span class="f">(振休)</span></div>
<div class="c pp" style="left:1133.64px;width:79.54px;top:1248.05px">14<span class="s">(祝)</span></div>
<div class="c pp" style="left:1213.18px;width:79.54px;top:1248.05px">4<span class="f">(振休)</span></div>
<div class="c pp" style="left:1292.72px;width:141.98px;top:1248.05px">30<span class="w wM">(月)年内最終</span></div>
<div class="c pp" style="left:1434.7px;width:141.7px;top:1248.05px">6<span class="w wG">(月)収集開始</span></div>
<div class="c pp" style="left:1655.8px;width:79.5px;top:1248.05px">20<span class="s">(祝)</span></div>
<div class="c" style="left:656.4px;width:79.54px;top:1289.1px">24</div>
<div class="c" style="left:735.94px;width:79.54px;top:1289.1px">29</div>
<div class="c" style="left:815.48px;width:79.54px;top:1289.1px">26</div>
<div class="c" style="left:895.02px;width:79.54px;top:1289.1px">24</div>
<div class="c" style="left:974.56px;width:79.54px;top:1289.1px">21</div>
<div class="c" style="left:1054.1px;width:79.54px;top:1289.1px">18</div>
<div class="c" style="left:1133.64px;width:79.54px;top:1289.1px">16</div>
<div class="c" style="left:1213.18px;width:79.54px;top:1289.1px">13</div>
<div class="c" style="left:1292.72px;width:141.98px;top:1289.1px">11</div>
<div class="c" style="left:1434.7px;width:141.7px;top:1289.1px">15</div>
<div class="c" style="left:1576.4px;width:79.4px;top:1289.1px">12</div>
<div class="c" style="left:1655.8px;width:79.5px;top:1289.1px">12</div>
<div class="c" style="left:656.4px;width:79.54px;top:1330.86px">10</div>
<div class="c" style="left:735.94px;width:79.54px;top:1330.86px">15</div>
<div class="c" style="left:815.48px;width:79.54px;top:1330.86px">12</div>
<div class="c" style="left:895.02px;width:79.54px;top:1330.86px">10</div>
<div class="c" style="left:974.56px;width:79.54px;top:1330.86px">7</div>
<div class="c" style="left:1054.1px;width:79.54px;top:1330.86px">4</div>
<div class="c" style="left:1133.64px;width:79.54px;top:1330.86px">2<i>•</i>30</div>
<div class="c" style="left:1213.18px;width:79.54px;top:1330.86px">27</div>
<div class="c" style="left:1292.72px;width:141.98px;top:1330.86px">25</div>
<div class="c" style="left:1434.7px;width:141.7px;top:1330.86px">29</div>
<div class="c" style="left:1576.4px;width:79.4px;top:1330.86px">26</div>
<div class="c" style="left:1655.8px;width:79.5px;top:1330.86px">26</div>
<div class="c" style="left:656.4px;width:79.54px;top:1372.61px">10</div>
<div class="c" style="left:895.02px;width:79.54px;top:1372.61px">10</div>
<div class="c" style="left:1133.64px;width:79.54px;top:1372.61px">2</div>
<div class="c" style="left:1434.7px;width:141.7px;top:1372.61px">29</div>
<div class="c" style="left:656.4px;width:79.54px;top:1414.37px">17</div>
<div class="c" style="left:735.94px;width:79.54px;top:1414.37px">22</div>
<div class="c" style="left:815.48px;width:79.54px;top:1414.37px">19</div>
<div class="c" style="left:895.02px;width:79.54px;top:1414.37px">17</div>
<div class="c" style="left:974.56px;width:79.54px;top:1414.37px">14</div>
<div class="c" style="left:1054.1px;width:79.54px;top:1414.37px">11</div>
<div class="c" style="left:1133.64px;width:79.54px;top:1414.37px">9</div>
<div class="c" style="left:1213.18px;width:79.54px;top:1414.37px">6</div>
<div class="c" style="left:1292.72px;width:141.98px;top:1414.37px">4</div>
<div class="c" style="left:1434.7px;width:141.7px;top:1414.37px">8</div>
<div class="c" style="left:1576.4px;width:79.4px;top:1414.37px">5</div>
<div class="c" style="left:1655.8px;width:79.5px;top:1414.37px">5</div>
<div class="al" style="top:1531.12px"><span style="letter-spacing:-0.61px">赤坂、大原2の一部、大原3、</span></div>
<div class="al" style="top:1563.22px"><span style="letter-spacing:-0.18px">大針、大薮、北小木、宝、姫、平井</span></div>
<div class="pill" style="top:1626.22px">令和<span class="p6">6</span>年度</div>
<div class="day" style="top:1460.02px;height:41.75px;line-height:41.75px">火・金</div>
<div class="day" style="top:1500.47px;height:125.26px;line-height:125.26px">水</div>
<div class="day" style="top:1625.64px;height:41.75px;line-height:41.75px">水</div>
<div class="it i0" style="top:1459.7px">燃やすごみ<br>特別収集</div>
<div class="it i1" style="top:1511.85px">金属・紙・布類</div>
<div class="it i2" style="top:1555.31px">ビン・ペット・発泡類</div>
<div class="it i3" style="top:1586.36px">有害ごみ・天ぷら油<br>陶食器</div>
<div class="it i4" style="top:1640.71px">破砕ごみ</div>
<div class="rb" style="left:548.5px;top:1630.24px">はさい</div>
<div class="c pp" style="left:1292.72px;width:141.98px;top:1456.82px">27<span class="w wK">(金)年内最終</span></div>
<div class="c pp" style="left:1434.7px;width:141.7px;top:1456.82px">4<span class="w wT">(土)収集開始</span></div>
<div class="c pp" style="left:1576.4px;width:79.4px;top:1456.82px">11<span class="s">(祝)</span></div>
<div class="c" style="left:656.4px;width:79.54px;top:1497.87px">24</div>
<div class="c" style="left:735.94px;width:79.54px;top:1497.87px">29</div>
<div class="c" style="left:815.48px;width:79.54px;top:1497.87px">26</div>
<div class="c" style="left:895.02px;width:79.54px;top:1497.87px">24</div>
<div class="c" style="left:974.56px;width:79.54px;top:1497.87px">21</div>
<div class="c" style="left:1054.1px;width:79.54px;top:1497.87px">18</div>
<div class="c" style="left:1133.64px;width:79.54px;top:1497.87px">16</div>
<div class="c" style="left:1213.18px;width:79.54px;top:1497.87px">13</div>
<div class="c" style="left:1292.72px;width:141.98px;top:1497.87px">11</div>
<div class="c" style="left:1434.7px;width:141.7px;top:1497.87px">15</div>
<div class="c" style="left:1576.4px;width:79.4px;top:1497.87px">12</div>
<div class="c" style="left:1655.8px;width:79.5px;top:1497.87px">12</div>
<div class="c" style="left:656.4px;width:79.54px;top:1539.63px">10</div>
<div class="c" style="left:735.94px;width:79.54px;top:1539.63px">15</div>
<div class="c" style="left:815.48px;width:79.54px;top:1539.63px">12</div>
<div class="c" style="left:895.02px;width:79.54px;top:1539.63px">10</div>
<div class="c" style="left:974.56px;width:79.54px;top:1539.63px">7</div>
<div class="c" style="left:1054.1px;width:79.54px;top:1539.63px">4</div>
<div class="c" style="left:1133.64px;width:79.54px;top:1539.63px">2<i>•</i>30</div>
<div class="c" style="left:1213.18px;width:79.54px;top:1539.63px">27</div>
<div class="c" style="left:1292.72px;width:141.98px;top:1539.63px">25</div>
<div class="c" style="left:1434.7px;width:141.7px;top:1539.63px">29</div>
<div class="c" style="left:1576.4px;width:79.4px;top:1539.63px">26</div>
<div class="c" style="left:1655.8px;width:79.5px;top:1539.63px">26</div>
<div class="c" style="left:656.4px;width:79.54px;top:1581.38px">10</div>
<div class="c" style="left:895.02px;width:79.54px;top:1581.38px">10</div>
<div class="c" style="left:1133.64px;width:79.54px;top:1581.38px">2</div>
<div class="c" style="left:1434.7px;width:141.7px;top:1581.38px">29</div>
<div class="c" style="left:656.4px;width:79.54px;top:1623.14px">17</div>
<div class="c" style="left:735.94px;width:79.54px;top:1623.14px">22</div>
<div class="c" style="left:815.48px;width:79.54px;top:1623.14px">19</div>
<div class="c" style="left:895.02px;width:79.54px;top:1623.14px">17</div>
<div class="c" style="left:974.56px;width:79.54px;top:1623.14px">14</div>
<div class="c" style="left:1054.1px;width:79.54px;top:1623.14px">11</div>
<div class="c" style="left:1133.64px;width:79.54px;top:1623.14px">9</div>
<div class="c" style="left:1213.18px;width:79.54px;top:1623.14px">6</div>
<div class="c" style="left:1292.72px;width:141.98px;top:1623.14px">4</div>
<div class="c" style="left:1434.7px;width:141.7px;top:1623.14px">8</div>
<div class="c" style="left:1576.4px;width:79.4px;top:1623.14px">5</div>
<div class="c" style="left:1655.8px;width:79.5px;top:1623.14px">5</div>
<div class="al" style="top:1675.69px"><span style="letter-spacing:-1px;transform:scaleX(0.9119)">生田、奥川、神楽、窯、上、坂上、下沢、</span></div>
<div class="al" style="top:1707.59px"><span style="letter-spacing:-1px;transform:scaleX(0.8681)">小路、新富、陶元、常盤、中、東、日ノ出、</span></div>
<div class="al" style="top:1739.49px"><span style="letter-spacing:-1px;transform:scaleX(0.9771)">平野（前山団地を含む）、広小路4、</span></div>
<div class="al" style="top:1771.39px"><span style="letter-spacing:-1px;transform:scaleX(0.8818)">星ケ台、本5〜8、美坂、明治、元、山下、</span></div>
<div class="al" style="top:1803.29px"><span style="letter-spacing:-1px;transform:scaleX(0.9239)">山吹、ビレッジハウス滝呂、笠原（栄、</span></div>
<div class="al" style="top:1835.19px"><span style="letter-spacing:-1px;transform:scaleX(0.9239)">上原、向島）</span></div>
<div class="pill" style="top:1834.99px">令和<span class="p6">6</span>年度</div>
<div class="day" style="top:1668.79px;height:41.75px;line-height:41.75px">火・金</div>
<div class="day" style="top:1709.24px;height:125.26px;line-height:125.26px">木</div>
<div class="day" style="top:1834.41px;height:41.75px;line-height:41.75px">水</div>
<div class="it i0" style="top:1668.47px">燃やすごみ<br>特別収集</div>
<div class="it i1" style="top:1720.62px">金属・紙・布類</div>
<div class="it i2" style="top:1764.08px">ビン・ペット・発泡類</div>
<div class="it i3" style="top:1795.13px">有害ごみ・天ぷら油<br>陶食器</div>
<div class="it i4" style="top:1849.48px">破砕ごみ</div>
<div class="rb" style="left:548.5px;top:1839.01px">はさい</div>
<div class="c pp" style="left:1292.72px;width:141.98px;top:1665.59px">27<span class="w wK">(金)年内最終</span></div>
<div class="c pp" style="left:1434.7px;width:141.7px;top:1665.59px">4<span class="w wT">(土)収集開始</span></div>
<div class="c pp" style="left:1576.4px;width:79.4px;top:1665.59px">11<span class="s">(祝)</span></div>
<div class="c" style="left:656.4px;width:79.54px;top:1706.64px">4</div>
<div class="c" style="left:735.94px;width:79.54px;top:1706.64px">9</div>
<div class="c" style="left:815.48px;width:79.54px;top:1706.64px">6</div>
<div class="c" style="left:895.02px;width:79.54px;top:1706.64px">4</div>
<div class="c" style="left:974.56px;width:79.54px;top:1706.64px">1<i>•</i>29</div>
<div class="c" style="left:1054.1px;width:79.54px;top:1706.64px">26</div>
<div class="c" style="left:1133.64px;width:79.54px;top:1706.64px">24</div>
<div class="c" style="left:1213.18px;width:79.54px;top:1706.64px">21</div>
<div class="c" style="left:1292.72px;width:141.98px;top:1706.64px">19</div>
<div class="c" style="left:1434.7px;width:141.7px;top:1706.64px">23</div>
<div class="c" style="left:1576.4px;width:79.4px;top:1706.64px">20</div>
<div class="c" style="left:1655.8px;width:79.5px;top:1706.64px">20<span class="s">(祝)</span></div>
<div class="c" style="left:656.4px;width:79.54px;top:1748.4px">18</div>
<div class="c" style="left:735.94px;width:79.54px;top:1748.4px">23</div>
<div class="c" style="left:815.48px;width:79.54px;top:1748.4px">20</div>
<div class="c" style="left:895.02px;width:79.54px;top:1748.4px">18</div>
<div class="c" style="left:974.56px;width:79.54px;top:1748.4px">15</div>
<div class="c" style="left:1054.1px;width:79.54px;top:1748.4px">12</div>
<div class="c" style="left:1133.64px;width:79.54px;top:1748.4px">10</div>
<div class="c" style="left:1213.18px;width:79.54px;top:1748.4px">7</div>
<div class="c" style="left:1292.72px;width:141.98px;top:1748.4px">5</div>
<div class="c" style="left:1434.7px;width:141.7px;top:1748.4px">9</div>
<div class="c" style="left:1576.4px;width:79.4px;top:1748.4px">6</div>
<div class="c" style="left:1655.8px;width:79.5px;top:1748.4px">6</div>
<div class="c" style="left:735.94px;width:79.54px;top:1790.15px">23</div>
<div class="c" style="left:974.56px;width:79.54px;top:1790.15px">15</div>
<div class="c" style="left:1213.18px;width:79.54px;top:1790.15px">7</div>
<div class="c" style="left:1576.4px;width:79.4px;top:1790.15px">6</div>
<div class="c" style="left:656.4px;width:79.54px;top:1831.91px">3</div>
<div class="c" style="left:735.94px;width:79.54px;top:1831.91px">8</div>
<div class="c" style="left:815.48px;width:79.54px;top:1831.91px">5</div>
<div class="c" style="left:895.02px;width:79.54px;top:1831.91px">3<i>•</i>31</div>
<div class="c" style="left:974.56px;width:79.54px;top:1831.91px">28</div>
<div class="c" style="left:1054.1px;width:79.54px;top:1831.91px">25</div>
<div class="c" style="left:1133.64px;width:79.54px;top:1831.91px">23</div>
<div class="c" style="left:1213.18px;width:79.54px;top:1831.91px">20</div>
<div class="c" style="left:1292.72px;width:141.98px;top:1831.91px">18</div>
<div class="c" style="left:1434.7px;width:141.7px;top:1831.91px">22</div>
<div class="c" style="left:1576.4px;width:79.4px;top:1831.91px">19</div>
<div class="c" style="left:1655.8px;width:79.5px;top:1831.91px">19</div>
<div class="al" style="top:1928.06px"><span style="letter-spacing:-0.3px">市之倉、滝呂（ビレッジハウス滝</span></div>
<div class="al" style="top:1960.46px"><span style="letter-spacing:-0.06px">呂を除く）、笠原（音羽、神戸、富</span></div>
<div class="al" style="top:1992.86px"><span style="letter-spacing:-1px;transform:scaleX(0.9887)">士、釜、平園）</span></div>
<div class="pill" style="top:2043.76px">令和<span class="p6">6</span>年度</div>
<div class="day" style="top:1877.56px;height:41.75px;line-height:41.75px">火・金</div>
<div class="day" style="top:1918.01px;height:125.26px;line-height:125.26px">木</div>
<div class="day" style="top:2043.18px;height:41.75px;line-height:41.75px">水</div>
<div class="it i0" style="top:1877.24px">燃やすごみ<br>特別収集</div>
<div class="it i1" style="top:1929.39px">金属・紙・布類</div>
<div class="it i2" style="top:1972.85px">ビン・ペット・発泡類</div>
<div class="it i3" style="top:2003.9px">有害ごみ・天ぷら油<br>陶食器</div>
<div class="it i4" style="top:2058.25px">破砕ごみ</div>
<div class="rb" style="left:548.5px;top:2047.78px">はさい</div>
<div class="c pp" style="left:1292.72px;width:141.98px;top:1874.36px">27<span class="w wK">(金)年内最終</span></div>
<div class="c pp" style="left:1434.7px;width:141.7px;top:1874.36px">4<span class="w wT">(土)収集開始</span></div>
<div class="c pp" style="left:1576.4px;width:79.4px;top:1874.36px">11<span class="s">(祝)</span></div>
<div class="c" style="left:656.4px;width:79.54px;top:1915.41px">11</div>
<div class="c" style="left:735.94px;width:79.54px;top:1915.41px">16</div>
<div class="c" style="left:815.48px;width:79.54px;top:1915.41px">13</div>
<div class="c" style="left:895.02px;width:79.54px;top:1915.41px">11</div>
<div class="c" style="left:974.56px;width:79.54px;top:1915.41px">8</div>
<div class="c" style="left:1054.1px;width:79.54px;top:1915.41px">5</div>
<div class="c" style="left:1133.64px;width:79.54px;top:1915.41px">3<i>•</i>31</div>
<div class="c" style="left:1213.18px;width:79.54px;top:1915.41px">28</div>
<div class="c" style="left:1292.72px;width:141.98px;top:1915.41px">26</div>
<div class="c" style="left:1434.7px;width:141.7px;top:1915.41px">30</div>
<div class="c" style="left:1576.4px;width:79.4px;top:1915.41px">27</div>
<div class="c" style="left:1655.8px;width:79.5px;top:1915.41px">27</div>
<div class="c" style="left:656.4px;width:79.54px;top:1957.17px">25</div>
<div class="c" style="left:735.94px;width:79.54px;top:1957.17px">30</div>
<div class="c" style="left:815.48px;width:79.54px;top:1957.17px">27</div>
<div class="c" style="left:895.02px;width:79.54px;top:1957.17px">25</div>
<div class="c" style="left:974.56px;width:79.54px;top:1957.17px">22</div>
<div class="c" style="left:1054.1px;width:79.54px;top:1957.17px">19</div>
<div class="c" style="left:1133.64px;width:79.54px;top:1957.17px">17</div>
<div class="c" style="left:1213.18px;width:79.54px;top:1957.17px">14</div>
<div class="c" style="left:1292.72px;width:141.98px;top:1957.17px">12</div>
<div class="c" style="left:1434.7px;width:141.7px;top:1957.17px">16</div>
<div class="c" style="left:1576.4px;width:79.4px;top:1957.17px">13</div>
<div class="c" style="left:1655.8px;width:79.5px;top:1957.17px">13</div>
<div class="c" style="left:735.94px;width:79.54px;top:1998.92px">30</div>
<div class="c" style="left:974.56px;width:79.54px;top:1998.92px">22</div>
<div class="c" style="left:1213.18px;width:79.54px;top:1998.92px">14</div>
<div class="c" style="left:1576.4px;width:79.4px;top:1998.92px">13</div>
<div class="c" style="left:656.4px;width:79.54px;top:2040.68px">17</div>
<div class="c" style="left:735.94px;width:79.54px;top:2040.68px">22</div>
<div class="c" style="left:815.48px;width:79.54px;top:2040.68px">19</div>
<div class="c" style="left:895.02px;width:79.54px;top:2040.68px">17</div>
<div class="c" style="left:974.56px;width:79.54px;top:2040.68px">14</div>
<div class="c" style="left:1054.1px;width:79.54px;top:2040.68px">11</div>
<div class="c" style="left:1133.64px;width:79.54px;top:2040.68px">9</div>
<div class="c" style="left:1213.18px;width:79.54px;top:2040.68px">6</div>
<div class="c" style="left:1292.72px;width:141.98px;top:2040.68px">4</div>
<div class="c" style="left:1434.7px;width:141.7px;top:2040.68px">8</div>
<div class="c" style="left:1576.4px;width:79.4px;top:2040.68px">5</div>
<div class="c" style="left:1655.8px;width:79.5px;top:2040.68px">5</div>
<div class="al" style="top:2137.23px"><span style="letter-spacing:-1.03px">小名田、希望ケ丘、</span></div>
<div class="al" style="top:2169.63px"><span style="letter-spacing:-0.67px">虎渓山（陶都の杜を除く）、</span></div>
<div class="al" style="top:2202.03px"><span style="letter-spacing:-0.53px">高田、東栄、西坂、東山</span></div>
<div class="pill" style="top:2252.53px">令和<span class="p6">6</span>年度</div>
<div class="day" style="top:2086.33px;height:41.75px;line-height:41.75px">月・木</div>
<div class="day" style="top:2126.78px;height:125.26px;line-height:125.26px">金</div>
<div class="day" style="top:2251.95px;height:41.75px;line-height:41.75px">水</div>
<div class="it i0" style="top:2086.01px">燃やすごみ<br>特別収集</div>
<div class="it i1" style="top:2138.16px">金属・紙・布類</div>
<div class="it i2" style="top:2181.62px">ビン・ペット・発泡類</div>
<div class="it i3" style="top:2212.67px">有害ごみ・天ぷら油<br>陶食器</div>
<div class="it i4" style="top:2267.02px">破砕ごみ</div>
<div class="rb" style="left:548.5px;top:2256.55px">はさい</div>
<div class="c pp" style="left:656.4px;width:79.54px;top:2083.13px">29<span class="s">(祝)</span></div>
<div class="c pp" style="left:895.02px;width:79.54px;top:2083.13px">15<span class="s">(祝)</span></div>
<div class="c pp" style="left:974.56px;width:79.54px;top:2083.13px">12<span class="f">(振休)</span></div>
<div class="dd" style="left:1054.1px;width:79.54px;top:2084.71px">16<span class="s">(祝)</span></div>
<div class="dd" style="left:1054.1px;width:79.54px;top:2103.51px">23<span class="f">(振休)</span></div>
<div class="c pp" style="left:1133.64px;width:79.54px;top:2083.13px">14<span class="s">(祝)</span></div>
<div class="c pp" style="left:1213.18px;width:79.54px;top:2083.13px">4<span class="f">(振休)</span></div>
<div class="c pp" style="left:1292.72px;width:141.98px;top:2083.13px">30<span class="w wM">(月)年内最終</span></div>
<div class="c pp" style="left:1434.7px;width:141.7px;top:2083.13px">6<span class="w wG">(月)収集開始</span></div>
<div class="c pp" style="left:1655.8px;width:79.5px;top:2083.13px">20<span class="s">(祝)</span></div>
<div class="c" style="left:656.4px;width:79.54px;top:2124.18px">5</div>
<div class="c" style="left:735.94px;width:79.54px;top:2124.18px">10</div>
<div class="c" style="left:815.48px;width:79.54px;top:2124.18px">7</div>
<div class="c" style="left:895.02px;width:79.54px;top:2124.18px">5</div>
<div class="c" style="left:974.56px;width:79.54px;top:2124.18px">2<i>•</i>30</div>
<div class="c" style="left:1054.1px;width:79.54px;top:2124.18px">27</div>
<div class="c" style="left:1133.64px;width:79.54px;top:2124.18px">25</div>
<div class="c" style="left:1213.18px;width:79.54px;top:2124.18px">22</div>
<div class="c" style="left:1292.72px;width:141.98px;top:2124.18px">20</div>
<div class="c" style="left:1434.7px;width:141.7px;top:2124.18px">24</div>
<div class="c" style="left:1576.4px;width:79.4px;top:2124.18px">21</div>
<div class="c" style="left:1655.8px;width:79.5px;top:2124.18px">21</div>
<div class="c" style="left:656.4px;width:79.54px;top:2165.94px">19</div>
<div class="c" style="left:735.94px;width:79.54px;top:2165.94px">24</div>
<div class="c" style="left:815.48px;width:79.54px;top:2165.94px">21</div>
<div class="c" style="left:895.02px;width:79.54px;top:2165.94px">19</div>
<div class="c" style="left:974.56px;width:79.54px;top:2165.94px">16</div>
<div class="c" style="left:1054.1px;width:79.54px;top:2165.94px">13</div>
<div class="c" style="left:1133.64px;width:79.54px;top:2165.94px">11</div>
<div class="c" style="left:1213.18px;width:79.54px;top:2165.94px">8</div>
<div class="c" style="left:1292.72px;width:141.98px;top:2165.94px">6</div>
<div class="c" style="left:1434.7px;width:141.7px;top:2165.94px">10</div>
<div class="c" style="left:1576.4px;width:79.4px;top:2165.94px">7</div>
<div class="c" style="left:1655.8px;width:79.5px;top:2165.94px">7</div>
<div class="c" style="left:656.4px;width:79.54px;top:2207.69px">19</div>
<div class="c" style="left:895.02px;width:79.54px;top:2207.69px">19</div>
<div class="c" style="left:1133.64px;width:79.54px;top:2207.69px">11</div>
<div class="c" style="left:1434.7px;width:141.7px;top:2207.69px">10</div>
<div class="c" style="left:656.4px;width:79.54px;top:2249.45px">10</div>
<div class="c" style="left:735.94px;width:79.54px;top:2249.45px">15</div>
<div class="c" style="left:815.48px;width:79.54px;top:2249.45px">12</div>
<div class="c" style="left:895.02px;width:79.54px;top:2249.45px">10</div>
<div class="c" style="left:974.56px;width:79.54px;top:2249.45px">7</div>
<div class="c" style="left:1054.1px;width:79.54px;top:2249.45px">4</div>
<div class="c" style="left:1133.64px;width:79.54px;top:2249.45px">2<i>•</i>30</div>
<div class="c" style="left:1213.18px;width:79.54px;top:2249.45px">27</div>
<div class="c" style="left:1292.72px;width:141.98px;top:2249.45px">25</div>
<div class="c" style="left:1434.7px;width:141.7px;top:2249.45px">29</div>
<div class="c" style="left:1576.4px;width:79.4px;top:2249.45px">26</div>
<div class="c" style="left:1655.8px;width:79.5px;top:2249.45px">26</div>
<div class="al" style="top:2362.5px"><span style="letter-spacing:-0.69px">旭ケ丘、明和</span></div>
<div class="pill" style="top:2461.3px">令和<span class="p6">6</span>年度</div>
<div class="day" style="top:2295.1px;height:41.75px;line-height:41.75px">月・木</div>
<div class="day" style="top:2335.55px;height:125.26px;line-height:125.26px">金</div>
<div class="day" style="top:2460.72px;height:41.75px;line-height:41.75px">水</div>
<div class="it i0" style="top:2294.78px">燃やすごみ<br>特別収集</div>
<div class="it i1" style="top:2346.93px">金属・紙・布類</div>
<div class="it i2" style="top:2390.39px">ビン・ペット・発泡類</div>
<div class="it i3" style="top:2421.44px">有害ごみ・天ぷら油<br>陶食器</div>
<div class="it i4" style="top:2475.79px">破砕ごみ</div>
<div class="rb" style="left:548.5px;top:2465.32px">はさい</div>
<div class="c pp" style="left:656.4px;width:79.54px;top:2291.9px">29<span class="s">(祝)</span></div>
<div class="c pp" style="left:895.02px;width:79.54px;top:2291.9px">15<span class="s">(祝)</span></div>
<div class="c pp" style="left:974.56px;width:79.54px;top:2291.9px">12<span class="f">(振休)</span></div>
<div class="dd" style="left:1054.1px;width:79.54px;top:2293.48px">16<span class="s">(祝)</span></div>
<div class="dd" style="left:1054.1px;width:79.54px;top:2312.28px">23<span class="f">(振休)</span></div>
<div class="c pp" style="left:1133.64px;width:79.54px;top:2291.9px">14<span class="s">(祝)</span></div>
<div class="c pp" style="left:1213.18px;width:79.54px;top:2291.9px">4<span class="f">(振休)</span></div>
<div class="c pp" style="left:1292.72px;width:141.98px;top:2291.9px">30<span class="w wM">(月)年内最終</span></div>
<div class="c pp" style="left:1434.7px;width:141.7px;top:2291.9px">6<span class="w wG">(月)収集開始</span></div>
<div class="c pp" style="left:1655.8px;width:79.5px;top:2291.9px">20<span class="s">(祝)</span></div>
<div class="c" style="left:656.4px;width:79.54px;top:2332.95px">12</div>
<div class="c" style="left:735.94px;width:79.54px;top:2332.95px">17</div>
<div class="c" style="left:815.48px;width:79.54px;top:2332.95px">14</div>
<div class="c" style="left:895.02px;width:79.54px;top:2332.95px">12</div>
<div class="c" style="left:974.56px;width:79.54px;top:2332.95px">9</div>
<div class="c" style="left:1054.1px;width:79.54px;top:2332.95px">6</div>
<div class="c" style="left:1133.64px;width:79.54px;top:2332.95px">4</div>
<div class="c" style="left:1213.18px;width:79.54px;top:2332.95px">1<i>•</i>29</div>
<div class="c" style="left:1292.72px;width:141.98px;top:2332.95px">27</div>
<div class="c" style="left:1434.7px;width:141.7px;top:2332.95px">31</div>
<div class="c" style="left:1576.4px;width:79.4px;top:2332.95px">28</div>
<div class="c" style="left:1655.8px;width:79.5px;top:2332.95px">28</div>
<div class="c" style="left:656.4px;width:79.54px;top:2374.71px">26</div>
<div class="c" style="left:735.94px;width:79.54px;top:2374.71px">31</div>
<div class="c" style="left:815.48px;width:79.54px;top:2374.71px">28</div>
<div class="c" style="left:895.02px;width:79.54px;top:2374.71px">26</div>
<div class="c" style="left:974.56px;width:79.54px;top:2374.71px">23</div>
<div class="c" style="left:1054.1px;width:79.54px;top:2374.71px">20</div>
<div class="c" style="left:1133.64px;width:79.54px;top:2374.71px">18</div>
<div class="c" style="left:1213.18px;width:79.54px;top:2374.71px">15</div>
<div class="c" style="left:1292.72px;width:141.98px;top:2374.71px">13</div>
<div class="c" style="left:1434.7px;width:141.7px;top:2374.71px">17</div>
<div class="c" style="left:1576.4px;width:79.4px;top:2374.71px">14</div>
<div class="c" style="left:1655.8px;width:79.5px;top:2374.71px">14</div>
<div class="c" style="left:656.4px;width:79.54px;top:2416.46px">26</div>
<div class="c" style="left:895.02px;width:79.54px;top:2416.46px">26</div>
<div class="c" style="left:1133.64px;width:79.54px;top:2416.46px">18</div>
<div class="c" style="left:1434.7px;width:141.7px;top:2416.46px">17</div>
<div class="c" style="left:656.4px;width:79.54px;top:2458.22px">10</div>
<div class="c" style="left:735.94px;width:79.54px;top:2458.22px">15</div>
<div class="c" style="left:815.48px;width:79.54px;top:2458.22px">12</div>
<div class="c" style="left:895.02px;width:79.54px;top:2458.22px">10</div>
<div class="c" style="left:974.56px;width:79.54px;top:2458.22px">7</div>
<div class="c" style="left:1054.1px;width:79.54px;top:2458.22px">4</div>
<div class="c" style="left:1133.64px;width:79.54px;top:2458.22px">2<i>•</i>30</div>
<div class="c" style="left:1213.18px;width:79.54px;top:2458.22px">27</div>
<div class="c" style="left:1292.72px;width:141.98px;top:2458.22px">25</div>
<div class="c" style="left:1434.7px;width:141.7px;top:2458.22px">29</div>
<div class="c" style="left:1576.4px;width:79.4px;top:2458.22px">26</div>
<div class="c" style="left:1655.8px;width:79.5px;top:2458.22px">26</div>
</body>
</html>
